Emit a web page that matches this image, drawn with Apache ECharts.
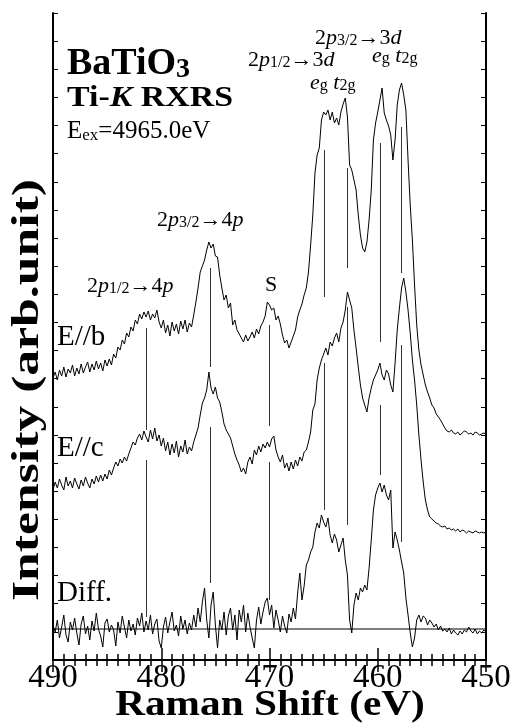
<!DOCTYPE html>
<html>
<head>
<meta charset="utf-8">
<script src="https://cdn.jsdelivr.net/npm/echarts@6/dist/echarts.min.js"></script>
<style>
html, body { margin: 0; padding: 0; background: #fff; }
#chart { width: 513px; height: 725px; }
</style>
</head>
<body>
<div id="chart"></div>
<script>
// Raman shift grid (eV): 490 -> 450, one point every 0.2 eV
const shiftStart = 490;
const shiftStep = -0.2;

// intensities (arb. units), E parallel to b
const specEb = [
  282,288,280,290,284,293,283,291,287,295,284,292,286,296,287,293,298,288,296,290,299,291,297,289,300,294,301,295,
  306,302,313,310,320,316,327,323,333,329,340,336,
  346,341,348,343,349,340,346,342,350,338,332,340,327,335,324,338,329,336,326,339,331,340,328,337,333,
  345,358,372,388,394,400,410,418,412,416,404,403,385,372,360,365,352,357,335,340,
  330,326,322,318,325,319,323,328,322,331,326,334,338,344,358,355,350,352,340,344,
  336,325,317,320,312,318,324,330,343,350,356,365,372,388,
  415,445,487,505,512,540,548,545,550,540,548,537,542,535,548,556,562,543,495,490,
  480,470,445,425,412,408,418,440,470,520,537,548,560,572,547,540,534,525,500,520,
  555,570,577,565,550,500,455,420,375,335,310,295,285,275,268,262,255,252,246,243,
  240,236,232,229,228,230,227,226,228,225,227,229,228,226,227,225,228,227,225,226,
  227,226
];

// E parallel to c
const specEc = [
  170,178,172,181,175,170,183,174,179,172,182,176,171,180,174,183,177,172,181,176,184,178,185,179,186,181,190,185,
  192,198,194,201,197,203,199,206,212,218,215,222,
  226,220,229,223,218,230,221,232,219,225,214,222,209,218,205,216,207,219,203,214,208,220,206,213,209,
  218,225,232,245,257,262,270,288,272,266,273,262,258,248,236,230,226,222,214,206,
  200,195,188,192,186,198,203,196,210,205,214,208,216,212,218,213,221,224,210,203,
  198,205,192,197,189,198,191,200,194,203,199,208,210,218,
  228,250,256,280,292,300,306,312,305,318,314,322,327,318,332,338,350,368,360,352,
  330,312,293,275,262,255,248,262,272,280,285,290,297,285,280,290,286,275,268,297,
  330,352,372,382,368,350,327,300,280,255,225,200,178,160,150,143,141,139,137,136,
  134,133,134,131,132,130,131,129,131,128,130,129,127,129,128,127,129,128,127,128,
  127,128
];

// difference spectrum (E//b - E//c), offset
const specDiff = [
  35,28,40,22,33,45,25,18,38,30,42,27,15,36,44,26,34,20,39,29,47,31,24,13,37,41,28,35,
  30,14,38,27,44,33,22,40,29,36,25,42,
  34,47,28,39,30,45,26,36,41,19,12,33,43,27,38,48,29,35,24,44,31,40,26,37,30,
  45,33,52,38,58,72,40,22,55,68,35,12,40,30,48,25,44,52,30,45,
  20,50,38,55,28,47,33,22,12,40,53,36,48,58,62,45,55,32,50,40,
  28,44,34,27,46,38,52,41,67,87,60,74,95,100,
  108,113,128,137,132,145,138,133,142,125,117,126,120,108,115,122,100,85,40,27,
  55,67,60,72,68,75,70,92,120,150,165,172,177,168,175,165,160,170,112,128,
  120,110,98,87,62,45,27,13,22,40,45,38,44,42,35,40,37,33,36,30,
  34,29,31,28,32,26,30,27,25,29,26,30,28,33,29,27,31,26,29,27,
  30,28
];

const diffBaseline = 31;

// peak markers: [shift, from, to]
const dropSegments = [
  [481.35, 332, 230], [481.35, 200, 43],
  [475.5, 392, 293], [475.5, 233, 77],
  [470.0, 335, 234], [470.0, 198, 60],
  [464.9, 510, 363], [464.9, 297, 150],
  [462.85, 492, 392], [462.85, 353, 135],
  [459.8, 517, 318], [459.8, 255, 185],
  [457.8, 533, 387], [457.8, 315, 118]
];

const shiftMin = 450, shiftMax = 490, shiftInterval = 10;
const yMax = 647, yTicks = 23;

const serif = 'Liberation Serif';

function toPairs(arr) {
  return arr.map((v, i) => [Number((shiftStart + shiftStep * i).toFixed(1)), v]);
}

function lineSeries(name, arr) {
  return {
    name: name,
    type: 'line',
    data: toPairs(arr),
    showSymbol: false,
    symbol: 'none',
    lineStyle: { color: '#000', width: 1 },
    z: 3
  };
}

// rich styles for annotations
function annStyles(f, sub, subLH) {
  return {
    n: { fontFamily: serif, fontSize: f, lineHeight: f, verticalAlign: 'bottom', color: '#000' },
    i: { fontFamily: serif, fontSize: f, lineHeight: f, fontStyle: 'italic', verticalAlign: 'bottom', color: '#000' },
    s: { fontFamily: serif, fontSize: sub, lineHeight: subLH, verticalAlign: 'bottom', color: '#000' }
  };
}

function label(x, baseline, text, rich, mainSize, sx) {
  return {
    type: 'text',
    x: x,
    y: baseline - 0.33 * mainSize,
    scaleX: sx || 1,
    style: { text: text, rich: rich, align: 'left', verticalAlign: 'middle' }
  };
}

const ann = annStyles(22, 16, 13);
const big = annStyles(29, 20, 12);
const eex = annStyles(25, 17, 12);
const titleRich = {
  b: { fontFamily: serif, fontSize: 38, lineHeight: 38, fontWeight: 'bold', verticalAlign: 'bottom', color: '#000' },
  bs: { fontFamily: serif, fontSize: 28, lineHeight: 24, fontWeight: 'bold', verticalAlign: 'bottom', color: '#000' }
};
const subRich = {
  b: { fontFamily: serif, fontSize: 30, lineHeight: 30, fontWeight: 'bold', verticalAlign: 'bottom', color: '#000' },
  bi: { fontFamily: serif, fontSize: 30, lineHeight: 30, fontWeight: 'bold', fontStyle: 'italic', verticalAlign: 'bottom', color: '#000' }
};

const chart = echarts.init(document.getElementById('chart'));

const axisCommon = {
  type: 'value',
  min: shiftMin,
  max: shiftMax,
  interval: shiftInterval,
  inverse: true,
  axisLine: { lineStyle: { color: '#000', width: 2 } },
  axisTick: { inside: true, length: 12, lineStyle: { color: '#000', width: 1.5 } },
  minorTick: { show: true, splitNumber: 10, length: 6, lineStyle: { color: '#000', width: 1.5 } },
  splitLine: { show: false },
  minorSplitLine: { show: false }
};

const yCommon = {
  type: 'value',
  min: 0,
  max: yMax,
  interval: yMax / yTicks,
  axisLine: { show: true, lineStyle: { color: '#000', width: 2 } },
  axisTick: { show: true, inside: true, length: 5, lineStyle: { color: '#000', width: 1 } },
  axisLabel: { show: false },
  splitLine: { show: false }
};

chart.setOption({
  animation: false,
  backgroundColor: '#fff',
  grid: { left: 53, right: 27, top: 13, bottom: 65, containLabel: false, outerBoundsMode: 'none' },
  xAxis: [
    Object.assign({}, axisCommon, {
      position: 'bottom',
      axisLabel: { fontFamily: serif, fontSize: 33, color: '#000', margin: 2 }
    }),
    Object.assign({}, axisCommon, { position: 'top', axisLabel: { show: false } })
  ],
  yAxis: [
    Object.assign({}, yCommon, { position: 'left' }),
    Object.assign({}, yCommon, { position: 'right' })
  ],
  series: [
    lineSeries('E//b', specEb),
    lineSeries('E//c', specEc),
    lineSeries('Diff.', specDiff),
    {
      name: 'baseline',
      type: 'line',
      data: [[shiftMax, diffBaseline], [shiftMin, diffBaseline]],
      symbol: 'none',
      lineStyle: { color: '#000', width: 1 },
      z: 2
    },
    {
      name: 'markers',
      type: 'lines',
      coordinateSystem: 'cartesian2d',
      data: dropSegments.map(s => ({ coords: [[s[0], s[1]], [s[0], s[2]]] })),
      lineStyle: { color: '#333', width: 1, opacity: 1 },
      z: 2
    }
  ],
  graphic: [
    {
      // y axis title
      type: 'text',
      x: 28,
      y: 390,
      rotation: Math.PI / 2,
      scaleX: 1.36,
      style: {
        text: 'Intensity (arb.unit)',
        fontFamily: serif, fontSize: 38, fontWeight: 'bold', fill: '#000',
        align: 'center', verticalAlign: 'middle'
      }
    },
    {
      // x axis title
      type: 'text',
      x: 270,
      y: 706,
      scaleX: 1.18,
      style: {
        text: 'Raman Shift (eV)',
        fontFamily: serif, fontSize: 35, fontWeight: 'bold', fill: '#000',
        align: 'center', verticalAlign: 'middle'
      }
    },
    label(67, 77, '{b|BaTiO}{bs|3}', titleRich, 38),
    label(67, 108, '{b|Ti-}{bi|K}{b| RXRS}', subRich, 30, 1.13),
    label(67, 140, '{n|E}{s|ex}{n|=4965.0eV}', eex, 25),
    label(315, 45, '{n|2}{i|p}{s|3/2}{n|→3}{i|d}', ann, 22),
    label(248, 67, '{n|2}{i|p}{s|1/2}{n|→3}{i|d}', ann, 22),
    label(372, 63, '{i|e}{s|g}{n| }{i|t}{s|2g}', ann, 22),
    label(310, 90, '{i|e}{s|g}{n| }{i|t}{s|2g}', ann, 22),
    label(157, 227, '{n|2}{i|p}{s|3/2}{n|→4}{i|p}', ann, 22),
    label(87, 293, '{n|2}{i|p}{s|1/2}{n|→4}{i|p}', ann, 22),
    label(265, 292, '{n|S}', ann, 22),
    label(57, 347, '{n|E//b}', big, 29),
    label(57, 458, '{n|E//c}', big, 29),
    label(57, 603, '{n|Diff.}', big, 29)
  ]
});
</script>
</body>
</html>
